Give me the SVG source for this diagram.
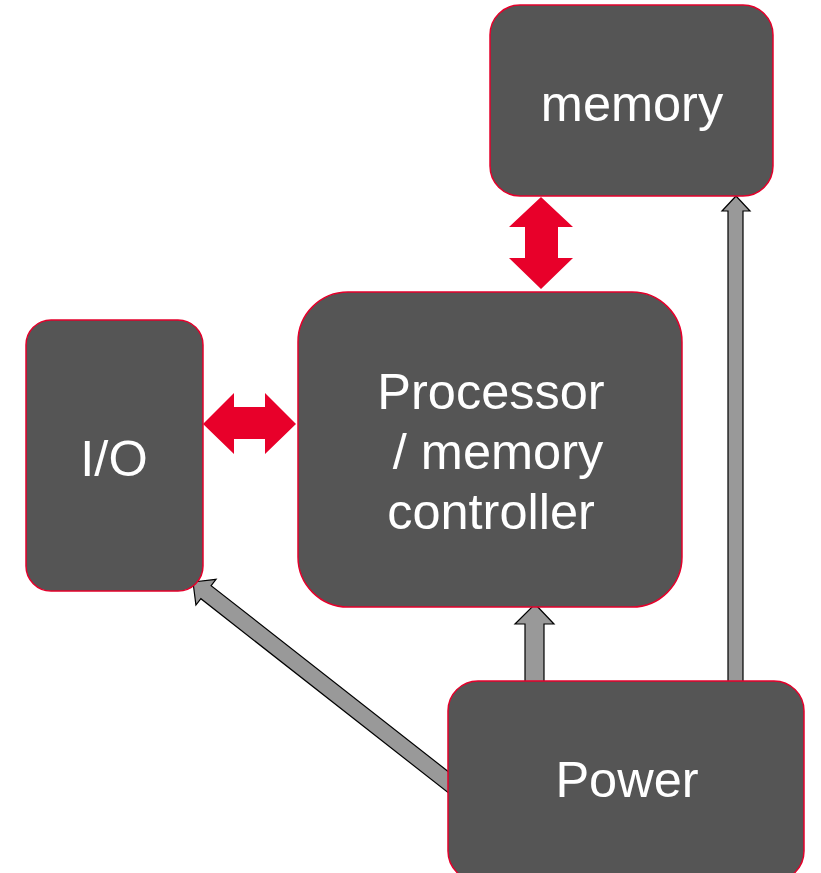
<svg xmlns="http://www.w3.org/2000/svg" width="821" height="873" viewBox="0 0 821 873">
<style>
.box{fill:#555555;stroke:#E4002B;stroke-width:1.5}
.lbl{fill:#ffffff;font-family:"Liberation Sans",Arial,sans-serif;font-size:50.5px;text-anchor:middle;white-space:pre}
.red{fill:#E8002A;stroke:none}
.gray{fill:#999999;stroke:#000000;stroke-width:1.2;stroke-linejoin:miter}
</style>
<rect width="821" height="873" fill="#ffffff"/>
<g id="connectors">
<polygon class="red" points="203,424 234,393 234,407 265,407 265,393 296,424 265,454 265,439 234,439 234,454"/>
<polygon class="red" points="541,197 573,227 558,227 558,258 573,258 541,289 509,258 525,258 525,227 509,227"/>
<polygon class="gray" points="535,604 554,624 544,624 544,684 525,684 525,624 515,624"/>
<polygon class="gray" points="736,196 750,211 743,211 743,684 728,684 728,211 722,211"/>
<polygon class="gray" transform="translate(193,582) rotate(38.1)" points="0,0 16.5,-16.3 16.5,-8.3 335,-8.3 335,8.3 16.5,8.3 16.5,16.3"/>
</g>
<g id="memory">
<rect class="box" x="490" y="5" width="283" height="191" rx="30"/>
<text class="lbl" x="632" y="121">memory</text>
</g>
<g id="processor">
<rect class="box" x="298" y="292" width="384" height="315" rx="50"/>
<text class="lbl" x="491" y="409">Processor</text>
<text class="lbl" x="491" y="469" xml:space="preserve"> / memory</text>
<text class="lbl" x="491" y="529">controller</text>
</g>
<g id="io">
<rect class="box" x="26" y="320" width="177" height="271" rx="25"/>
<text class="lbl" x="114" y="476">I/O</text>
</g>
<g id="power">
<rect class="box" x="448" y="681" width="356" height="200" rx="30"/>
<text class="lbl" x="627" y="797">Power</text>
</g>
</svg>
